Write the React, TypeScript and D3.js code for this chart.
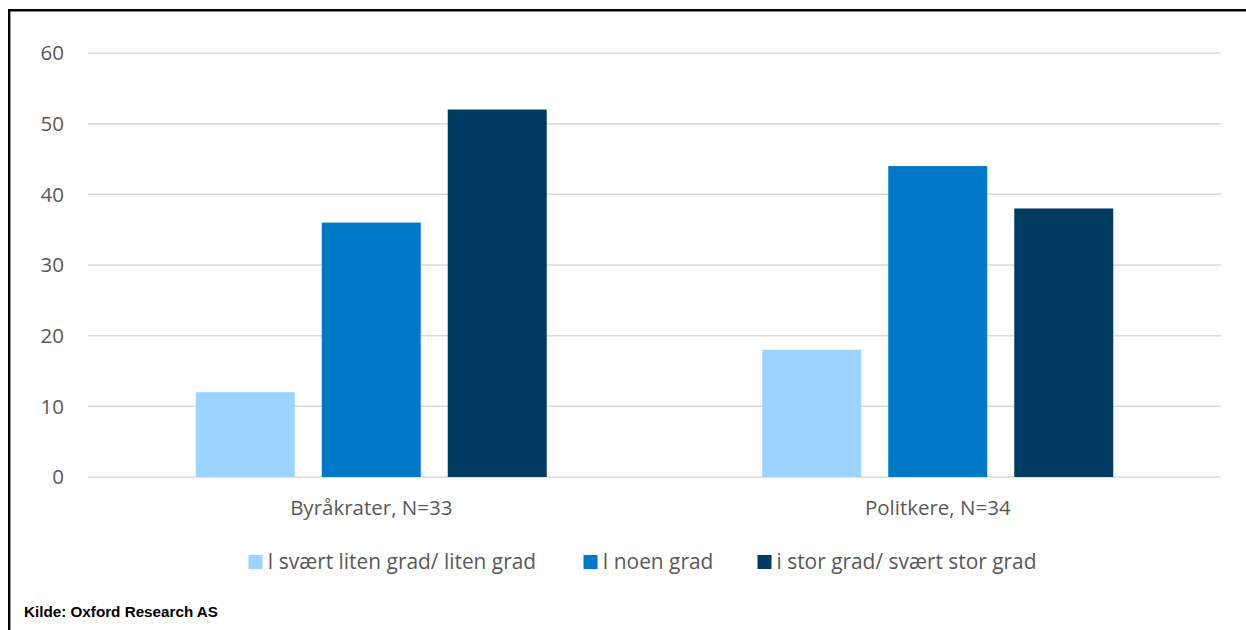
import React from "react";
import * as d3 from "d3";

const categories = ["Byråkrater, N=33", "Politkere, N=34"];
const seriesNames = ["I svært liten grad/ liten grad", "I noen grad", "i stor grad/ svært stor grad"];
const seriesColors = ["#9bd5ff", "#0078c8", "#003b62"];
const values = [
  [12, 18],
  [36, 44],
  [52, 38],
];
const yTicks = [0, 10, 20, 30, 40, 50, 60];
const sourceText = "Kilde: Oxford Research AS";

const W = 1246;
const H = 630;
const plot = { left: 88, right: 1221, top: 53, bottom: 477 };
const font = "'Open Sans', sans-serif";
const fs = 20.5;
const legendFs = 20.9;

export default function App() {
  const x0 = d3.scaleBand().domain(categories).range([plot.left, plot.right]).paddingInner(0).paddingOuter(0);
  const bw = x0.bandwidth();
  const barW = 99;
  const gap = 27;
  const groupW = barW * 3 + gap * 2;
  const x1 = d3
    .scaleBand()
    .domain(seriesNames)
    .range([(bw - groupW) / 2, (bw + groupW) / 2])
    .paddingInner(gap / (barW + gap))
    .paddingOuter(0);
  const y = d3.scaleLinear().domain([0, 60]).range([plot.bottom, plot.top]);

  const legendX = [248.5, 583.5, 757.5];

  return (
    <svg width={W} height={H} style={{ position: "absolute", left: 0, top: 0, background: "#fff" }}>
      <rect x={0} y={0} width={W} height={H} fill="#fff" />
      <line x1={9.2} y1={10} x2={9.2} y2={H} stroke="#000" strokeWidth={2.4} />
      <line x1={8} y1={10.2} x2={W} y2={10.2} stroke="#000" strokeWidth={2.4} />
      {yTicks.map((t) => (
        <g key={t}>
          <line x1={plot.left} x2={plot.right} y1={y(t)} y2={y(t)} stroke="#d9d9d9" strokeWidth={1.5} />
          <text x={64} y={y(t)} dy="0.35em" textAnchor="end" fontFamily={font} fontSize={fs} fill="#595959">
            {t}
          </text>
        </g>
      ))}
      {categories.map((c, ci) => (
        <g key={c} transform={`translate(${x0(c)},0)`}>
          {seriesNames.map((s, si) => (
            <rect
              key={s}
              x={x1(s)}
              width={x1.bandwidth()}
              y={y(values[si][ci])}
              height={y(0) - y(values[si][ci])}
              fill={seriesColors[si]}
            />
          ))}
          <text x={bw / 2} y={508} dy="0.35em" textAnchor="middle" fontFamily={font} fontSize={fs} fill="#595959">
            {c}
          </text>
        </g>
      ))}
      {seriesNames.map((s, si) => (
        <g key={s} transform={`translate(${legendX[si]},0)`}>
          <rect x={0} y={555} width={14} height={14} fill={seriesColors[si]} />
          <text x={19} y={561.5} dy="0.35em" fontFamily={font} fontSize={legendFs} fill="#595959">
            {s}
          </text>
        </g>
      ))}
      <text
        x={24}
        y={612}
        dy="0.35em"
        fontFamily="'Liberation Sans', Arial, sans-serif"
        fontWeight="bold"
        fontSize={14.5}
        fill="#000"
        textLength={194}
        lengthAdjust="spacingAndGlyphs"
      >
        {sourceText}
      </text>
    </svg>
  );
}
